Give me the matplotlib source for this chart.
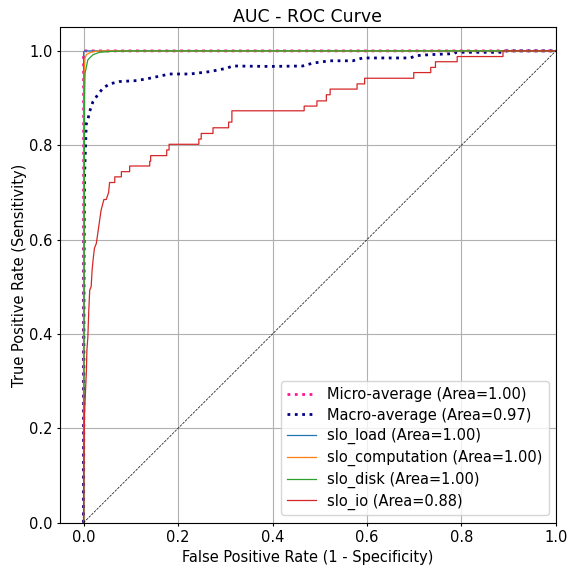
import matplotlib
matplotlib.use('Agg')
import matplotlib.pyplot as plt

# ROC curve points
micro_fpr = [0.0, 0.0, 0.0, 0.004, 1.0]
micro_tpr = [0.0, 0.6, 0.99, 1.0, 1.0]
micro_auc = 1.00

macro_fpr = [0.0, 0.0005, 0.001, 0.002, 0.0057, 0.009, 0.0127, 0.0197, 0.030, 0.041, 0.055,
             0.076, 0.112, 0.140, 0.182, 0.225, 0.267, 0.302, 0.316, 0.394, 0.464,
             0.485, 0.521, 0.570, 0.591, 0.691, 0.706, 0.733, 0.782, 0.790, 0.888,
             0.896, 1.0]
macro_tpr = [0.0, 0.35, 0.55, 0.733, 0.845, 0.854, 0.871, 0.892, 0.907, 0.921, 0.930,
             0.935, 0.937, 0.942, 0.951, 0.951, 0.956, 0.963, 0.968, 0.967, 0.968,
             0.974, 0.979, 0.979, 0.985, 0.985, 0.990, 0.992, 0.994, 0.997, 0.997,
             1.0, 1.0]
macro_auc = 0.97

class_names = ['slo_load', 'slo_computation', 'slo_disk', 'slo_io']
class_auc = [1.00, 1.00, 1.00, 0.88]
class_colors = ['#1f77b4', '#ff7f0e', '#2ca02c', '#d62728']

load_fpr = [0.0, 0.0, 0.0, 0.003, 1.0]
load_tpr = [0.0, 0.5, 0.998, 1.0, 1.0]

comp_fpr = [0.0, 0.0, 0.001, 0.003, 0.006, 0.013, 0.023, 0.04, 1.0]
comp_tpr = [0.0, 0.5, 0.95, 0.985, 0.992, 0.996, 0.999, 1.0, 1.0]

disk_fpr = [0.0, 0.001, 0.002, 0.003, 0.009, 0.02, 0.034, 0.06, 0.1, 1.0]
disk_tpr = [0.0, 0.5, 0.9, 0.952, 0.981, 0.992, 0.997, 0.999, 1.0, 1.0]

io_fpr = [0.0, 0.0, 0.0005, 0.002, 0.006, 0.007, 0.009, 0.011, 0.013, 0.016, 0.018,
          0.020, 0.023, 0.027, 0.032, 0.037, 0.043, 0.048, 0.053, 0.055, 0.066,
          0.066, 0.080, 0.080, 0.0975, 0.0975, 0.140, 0.140, 0.142, 0.142, 0.176,
          0.176, 0.181, 0.181, 0.244, 0.244, 0.249, 0.249, 0.274, 0.274, 0.307,
          0.307, 0.314, 0.314, 0.467, 0.467, 0.494, 0.494, 0.514, 0.514, 0.522,
          0.522, 0.579, 0.579, 0.595, 0.595, 0.699, 0.699, 0.735, 0.735, 0.745,
          0.745, 0.791, 0.791, 0.888, 0.888, 1.0]
io_tpr = [0.0, 0.0, 0.1, 0.231, 0.323, 0.365, 0.393, 0.450, 0.493, 0.500, 0.535,
          0.556, 0.582, 0.592, 0.627, 0.662, 0.685, 0.685, 0.700, 0.721, 0.721,
          0.733, 0.733, 0.744, 0.744, 0.756, 0.756, 0.766, 0.766, 0.778, 0.778,
          0.790, 0.790, 0.802, 0.802, 0.813, 0.813, 0.825, 0.825, 0.837, 0.837,
          0.849, 0.849, 0.873, 0.873, 0.883, 0.883, 0.894, 0.894, 0.907, 0.907,
          0.919, 0.919, 0.930, 0.930, 0.942, 0.942, 0.954, 0.954, 0.965, 0.965,
          0.977, 0.977, 0.988, 0.988, 1.0, 1.0]

class_fpr = [load_fpr, comp_fpr, disk_fpr, io_fpr]
class_tpr = [load_tpr, comp_tpr, disk_tpr, io_tpr]

fig = plt.figure(figsize=(5.69, 5.65), dpi=100)
ax = fig.add_axes([0.1054, 0.0749, 0.977 - 0.1054, 0.9517 - 0.0749])

ax.plot(micro_fpr, micro_tpr, color='deeppink', linestyle=':', linewidth=2,
        label='Micro-average (Area={:.2f})'.format(micro_auc))
ax.plot(macro_fpr, macro_tpr, color='navy', linestyle=':', linewidth=2,
        label='Macro-average (Area={:.2f})'.format(macro_auc))
for name, auc_val, col, fpr, tpr in zip(class_names, class_auc, class_colors, class_fpr, class_tpr):
    ax.plot(fpr, tpr, color=col, linewidth=0.9, label='{} (Area={:.2f})'.format(name, auc_val))

ax.plot([0, 1], [0, 1], 'k--', linewidth=0.5)
ax.set_xlim(-0.05, 1.0)
ax.set_ylim(0.0, 1.05)
ax.tick_params(labelsize=10.5, length=2.5, pad=2.8)
ax.set_xlabel('False Positive Rate (1 - Specificity)', fontsize=10.5, labelpad=3.5)
ax.set_ylabel('True Positive Rate (Sensitivity)', fontsize=10.5, labelpad=1.5)
ax.set_title('AUC - ROC Curve', fontsize=12.5, pad=4)
ax.grid(True)
ax.legend(loc='lower right', fontsize=10.5, labelspacing=0.38)

plt.savefig('out.png', dpi=100)
